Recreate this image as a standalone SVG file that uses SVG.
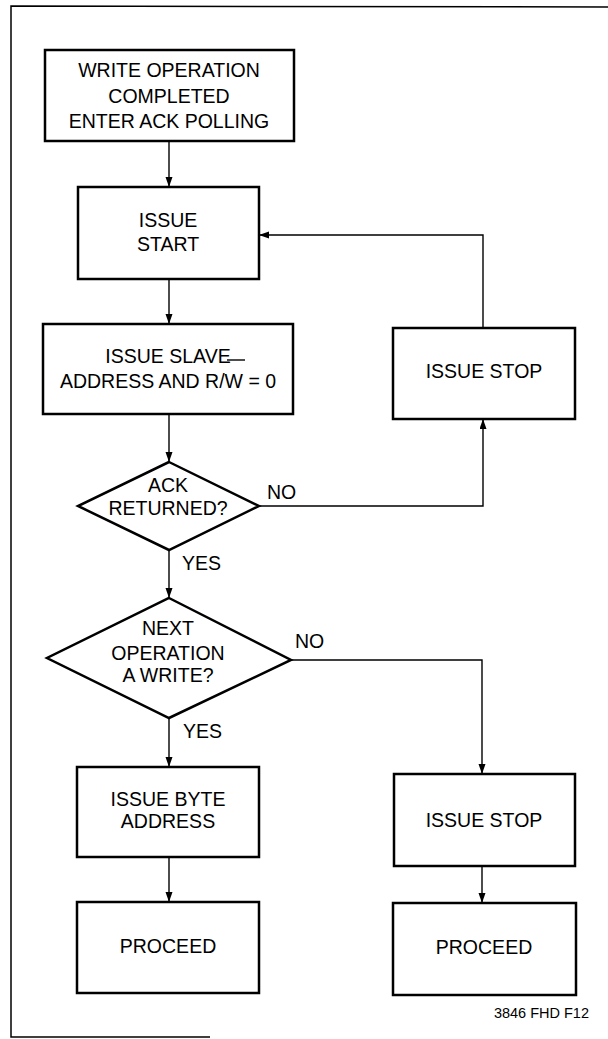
<svg xmlns="http://www.w3.org/2000/svg" width="608" height="1039" viewBox="0 0 608 1039">
<style>
.node{fill:#fff;stroke:#000;stroke-width:2.5}
.t{font-family:"Liberation Sans",Arial,sans-serif;font-size:19.5px;fill:#000;text-anchor:middle}
.lbl{font-family:"Liberation Sans",Arial,sans-serif;font-size:19.5px;fill:#000}
.c{fill:none;stroke:#000;stroke-width:1.4}
.frame{fill:none;stroke:#000;stroke-width:1.5}
</style>
<defs>
<marker id="ah" markerUnits="userSpaceOnUse" markerWidth="11" markerHeight="8" refX="10" refY="3.5" orient="auto">
<path d="M0,0 L10,3.5 L0,7 z" fill="#000"/>
</marker>
</defs>
<rect width="608" height="1039" fill="#fff"/>
<g id="frame">
<path class="frame" d="M608,7 L11,6 L11,1037 L210,1037"/>
</g>
<g id="connectors">
<path class="c" d="M169,141 L169,187" marker-end="url(#ah)"/>
<path class="c" d="M169,279 L169,324" marker-end="url(#ah)"/>
<path class="c" d="M169,414 L169,462" marker-end="url(#ah)"/>
<path class="c" d="M169,550 L169,598" marker-end="url(#ah)"/>
<path class="c" d="M259,506 L483,506 L483,419" marker-end="url(#ah)"/>
<path class="c" d="M483,328 L483,235 L259,235" marker-end="url(#ah)"/>
<path class="c" d="M291,660 L482,660 L482,774" marker-end="url(#ah)"/>
<path class="c" d="M169,718 L169,767" marker-end="url(#ah)"/>
<path class="c" d="M169,857 L169,902" marker-end="url(#ah)"/>
<path class="c" d="M482,866 L482,903" marker-end="url(#ah)"/>
<text class="lbl" x="267" y="499">NO</text>
<text class="lbl" x="182" y="570">YES</text>
<text class="lbl" x="295" y="648">NO</text>
<text class="lbl" x="183" y="738">YES</text>
</g>
<g id="n1">
<rect class="node" x="45" y="50" width="249" height="91"/>
<text class="t" x="169" y="77">WRITE OPERATION</text>
<text class="t" x="169" y="103">COMPLETED</text>
<text class="t" x="169" y="128">ENTER ACK POLLING</text>
</g>
<g id="n2">
<rect class="node" x="78" y="187" width="181" height="92"/>
<text class="t" x="168" y="227">ISSUE</text>
<text class="t" x="168" y="251">START</text>
</g>
<g id="n3">
<rect class="node" x="43" y="324" width="250" height="90"/>
<text class="t" x="168" y="363">ISSUE SLAVE</text>
<text class="t" x="168" y="388">ADDRESS AND R/W = 0</text>
<line x1="227" y1="360" x2="245" y2="360" stroke="#000" stroke-width="1.4"/>
</g>
<g id="d1">
<polygon class="node" points="169,462 259,506 169,550 78,506"/>
<text class="t" x="168" y="492">ACK</text>
<text class="t" x="168" y="515">RETURNED?</text>
</g>
<g id="d2">
<polygon class="node" points="169,598 291,660 169,718 47,658"/>
<text class="t" x="168" y="635">NEXT</text>
<text class="t" x="168" y="660">OPERATION</text>
<text class="t" x="168" y="682">A WRITE?</text>
</g>
<g id="n4">
<rect class="node" x="393" y="328" width="182" height="91"/>
<text class="t" x="484" y="378">ISSUE STOP</text>
</g>
<g id="n5">
<rect class="node" x="77" y="767" width="182" height="90"/>
<text class="t" x="168" y="806">ISSUE BYTE</text>
<text class="t" x="168" y="828">ADDRESS</text>
</g>
<g id="n6">
<rect class="node" x="77" y="902" width="182" height="91"/>
<text class="t" x="168" y="953">PROCEED</text>
</g>
<g id="n7">
<rect class="node" x="394" y="774" width="181" height="92"/>
<text class="t" x="484" y="827">ISSUE STOP</text>
</g>
<g id="n8">
<rect class="node" x="393" y="903" width="183" height="92"/>
<text class="t" x="484" y="954">PROCEED</text>
</g>
<text x="589" y="1018" font-family="Liberation Sans, Arial, sans-serif" font-size="14.5" text-anchor="end" fill="#000">3846 FHD F12</text>
</svg>
